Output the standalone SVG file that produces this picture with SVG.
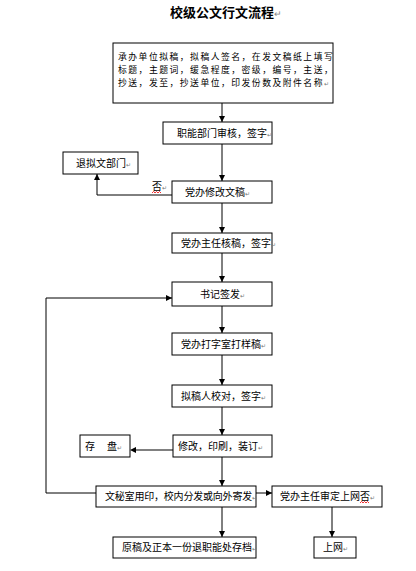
<svg xmlns="http://www.w3.org/2000/svg" width="416" height="571" viewBox="0 0 416 571">
<style>
.box{fill:#fff;stroke:#000;stroke-width:1}
.t{font-family:"Noto Sans CJK SC","Liberation Sans",sans-serif;font-size:10px;fill:#000}
.t1{font-family:"Noto Sans CJK SC","Liberation Sans",sans-serif;font-size:8.8px;letter-spacing:1.5px;fill:#000}
.pm{font-family:"DejaVu Sans",sans-serif;font-size:6px;fill:#777;letter-spacing:0}
.ln{fill:none;stroke:#000;stroke-width:1}
</style>
<defs>
<marker id="ah" markerWidth="6" markerHeight="6" refX="6" refY="3" orient="auto" markerUnits="userSpaceOnUse">
<path d="M0,0 L6,3 L0,6 Z" fill="#000"/>
</marker>
</defs>
<rect width="416" height="571" fill="#fff"/>
<text x="170" y="17" font-family="Noto Sans CJK SC,sans-serif" font-size="13" font-weight="bold">校级公文行文流程<tspan font-size="9" font-weight="normal" fill="#888">↵</tspan></text>

<g id="connectors">
<line class="ln" x1="222" y1="103" x2="222" y2="122" marker-end="url(#ah)"/>
<line class="ln" x1="222" y1="144" x2="222" y2="181" marker-end="url(#ah)"/>
<polyline class="ln" points="172,195 97,195 97,174" marker-end="url(#ah)"/>
<line class="ln" x1="222" y1="203" x2="222" y2="233" marker-end="url(#ah)"/>
<line class="ln" x1="222" y1="253" x2="222" y2="282" marker-end="url(#ah)"/>
<line class="ln" x1="222" y1="306" x2="222" y2="333" marker-end="url(#ah)"/>
<line class="ln" x1="222" y1="355" x2="222" y2="385" marker-end="url(#ah)"/>
<line class="ln" x1="222" y1="407" x2="222" y2="435" marker-end="url(#ah)"/>
<line x1="173" y1="450" x2="136" y2="450" stroke="#808080" stroke-width="2"/>
<path d="M130,450 L136,447 L136,453 Z" fill="#000"/>
<line class="ln" x1="222" y1="457" x2="222" y2="486" marker-end="url(#ah)"/>
<polyline class="ln" points="96,493 46,493 46,298 172,298" marker-end="url(#ah)"/>
<line class="ln" x1="256" y1="493" x2="272" y2="493" marker-end="url(#ah)"/>
<line class="ln" x1="222" y1="507" x2="222" y2="537" marker-end="url(#ah)"/>
<line class="ln" x1="332" y1="507" x2="332" y2="537" marker-end="url(#ah)"/>
<text class="t" x="152" y="190">否<tspan class="pm">↵</tspan></text>
<path d="M152,193 l1.5,-1.5 l1.5,1.5 l1.5,-1.5 l1.5,1.5 l1.5,-1.5 l1.5,1.5" fill="none" stroke="#e00" stroke-width="0.8"/>
</g>

<g id="n1">
<rect class="box" x="113" y="43" width="220" height="60"/>
<text class="t1" x="118" y="60">承办单位拟稿，拟稿人签名，在发文稿纸上填写</text>
<text class="t1" x="118" y="73">标题，主题词，缓急程度，密级，编号，主送，</text>
<text class="t1" x="118" y="86">抄送，发至，抄送单位，印发份数及附件名称<tspan class="pm">↵</tspan></text>
</g>
<g id="n2">
<rect class="box" x="163" y="122" width="109" height="22"/>
<text class="t" x="177" y="137">职能部门审核，签字<tspan class="pm">↵</tspan></text>
</g>
<g id="n3">
<rect class="box" x="63" y="152" width="75" height="22"/>
<text class="t" x="76" y="167">退拟文部门<tspan class="pm">↵</tspan></text>
</g>
<g id="n4">
<rect class="box" x="172" y="181" width="100" height="22"/>
<text class="t" x="185" y="196">党办修改文稿<tspan class="pm">↵</tspan></text>
</g>
<g id="n5">
<rect class="box" x="172" y="233" width="100" height="20"/>
<text class="t" x="181" y="247">党办主任核稿，签字<tspan class="pm">↵</tspan></text>
</g>
<g id="n6">
<rect class="box" x="172" y="282" width="100" height="24"/>
<text class="t" x="200" y="298">书记签发<tspan class="pm">↵</tspan></text>
</g>
<g id="n7">
<rect class="box" x="172" y="333" width="100" height="22"/>
<text class="t" x="181" y="348">党办打字室打样稿<tspan class="pm">↵</tspan></text>
</g>
<g id="n8">
<rect class="box" x="172" y="385" width="100" height="22"/>
<text class="t" x="181" y="400">拟稿人校对，签字<tspan class="pm">↵</tspan></text>
</g>
<g id="n9">
<rect class="box" x="173" y="435" width="99" height="22"/>
<text class="t" x="178" y="450">修改，印刷，装订<tspan class="pm">↵</tspan></text>
</g>
<g id="n10">
<rect class="box" x="80" y="435" width="50" height="22"/>
<text class="t" x="85" y="450">存<tspan x="107">盘</tspan><tspan class="pm">↵</tspan></text>
</g>
<g id="n11">
<rect class="box" x="96" y="486" width="160" height="21"/>
<text class="t" x="105" y="500" letter-spacing="-0.2">文秘室用印，校内分发或向外寄发<tspan class="pm">↵</tspan></text>
</g>
<g id="n12">
<rect class="box" x="272" y="486" width="110" height="21"/>
<text class="t" x="280" y="500">党办主任审定上网否<tspan class="pm">↵</tspan></text>
<path d="M360,503 l1.5,-1.5 l1.5,1.5 l1.5,-1.5 l1.5,1.5 l1.5,-1.5 l1.5,1.5" fill="none" stroke="#e00" stroke-width="0.8"/>
</g>
<g id="n13">
<rect class="box" x="113" y="537" width="143" height="21"/>
<text class="t" x="122" y="551">原稿及正本一份退职能处存档<tspan class="pm">↵</tspan></text>
</g>
<g id="n14">
<rect class="box" x="314" y="537" width="42" height="21"/>
<text class="t" x="323" y="551">上网<tspan class="pm">↵</tspan></text>
</g>
</svg>
